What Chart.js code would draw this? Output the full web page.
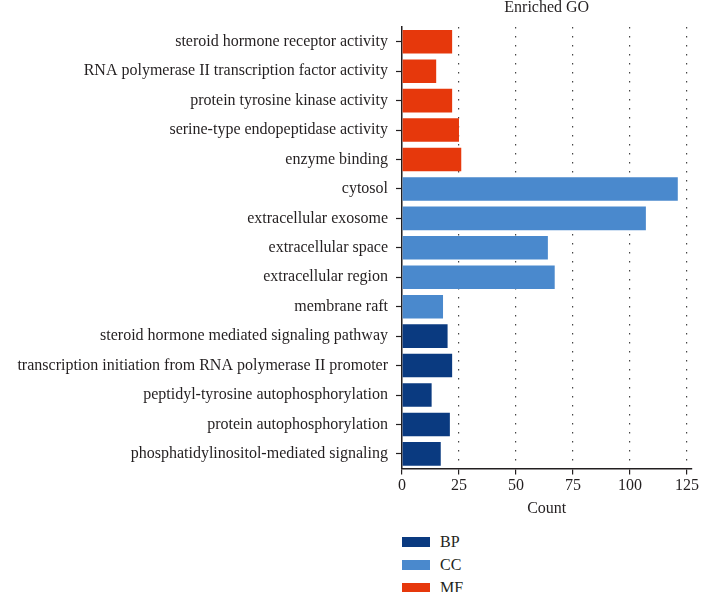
<!DOCTYPE html>
<html>
<head>
<meta charset="utf-8">
<script src="https://cdn.jsdelivr.net/npm/chart.js@4/dist/chart.umd.min.js"></script>
<style>
  body { margin: 0; background: #fff; }
  #wrap { position: relative; width: 701px; height: 592px; overflow: hidden; }
  #box { position: absolute; left: 0; top: 0; width: 701px; height: 518px; }
  #legend { position: absolute; left: 402px; top: 530px; font: 16px "Liberation Serif", serif; color: #231f20; }
  .item { display: flex; align-items: center; height: 23px; }
  .swatch { width: 28px; height: 10px; margin-right: 10px; }
</style>
</head>
<body>
<div id="wrap">
  <div id="box"><canvas id="chart"></canvas></div>
  <div id="legend"></div>
</div>
<script>
// GO terms, top to bottom
const terms = [
    'steroid hormone receptor activity',
    'RNA polymerase II transcription factor activity',
    'protein tyrosine kinase activity',
    'serine-type endopeptidase activity',
    'enzyme binding',
    'cytosol',
    'extracellular exosome',
    'extracellular space',
    'extracellular region',
    'membrane raft',
    'steroid hormone mediated signaling pathway',
    'transcription initiation from RNA polymerase II promoter',
    'peptidyl-tyrosine autophosphorylation',
    'protein autophosphorylation',
    'phosphatidylinositol-mediated signaling'
];
const mfCounts = [22, 15, 22, 25, 26, null, null, null, null, null, null, null, null, null, null];
const ccCounts = [null, null, null, null, null, 121, 107, 64, 67, 18, null, null, null, null, null];
const bpCounts = [null, null, null, null, null, null, null, null, null, null, 20, 22, 13, 21, 17];
const groups = ['BP', 'CC', 'MF'];
const groupColors = ['#0a3a80', '#4a89cd', '#e6380c'];
const xTicks = [0, 25, 50, 75, 100, 125];

const font = { family: '"Liberation Serif", serif', size: 16 };
const ink = '#231f20';

const titlePlugin = {
    id: 'topTitle',
    afterDraw(chart) {
        const { ctx, chartArea } = chart;
        ctx.save();
        ctx.font = '16px "Liberation Serif", serif';
        ctx.fillStyle = ink;
        ctx.textAlign = 'center';
        ctx.textBaseline = 'middle';
        ctx.fillText('Enriched GO', (chartArea.left + chartArea.right) / 2, 8);
        ctx.restore();
    }
};

const seriesData = { BP: bpCounts, CC: ccCounts, MF: mfCounts };

new Chart(document.getElementById('chart'), {
    type: 'bar',
    data: {
        labels: terms,
        datasets: groups.map((g, i) => ({
            label: g,
            data: seriesData[g],
            backgroundColor: groupColors[i],
            borderWidth: 0,
            barPercentage: 0.8,
            categoryPercentage: 1
        }))
    },
    options: {
        indexAxis: 'y',
        responsive: true,
        maintainAspectRatio: false,
        animation: false,
        layout: { padding: { top: 27, right: 6, left: 0, bottom: 0 } },
        plugins: { legend: { display: false }, tooltip: { enabled: false } },
        scales: {
            x: {
                stacked: true,
                min: 0,
                max: 127,
                afterBuildTicks: (scale) => { scale.ticks = xTicks.map(v => ({ value: v })); },
                ticks: { font, color: ink, padding: 2, maxRotation: 0 },
                grid: {
                    color: (c) => c.tick && c.tick.value === 0 ? 'rgba(0,0,0,0)' : '#444',
                    lineWidth: 1.2,
                    tickColor: ink,
                    tickLength: 6,
                    tickWidth: 1.2
                },
                border: { color: ink, width: 1.5, dash: [1.5, 7.5] },
                title: { display: true, text: 'Count', font, color: ink, padding: { top: 1, bottom: 0 } }
            },
            y: {
                stacked: true,
                afterFit: (scale) => { scale.width = 402; },
                ticks: { font, color: ink, padding: 8, autoSkip: false },
                grid: {
                    drawOnChartArea: false,
                    offset: false,
                    tickColor: ink,
                    tickLength: 6,
                    tickWidth: 1.2
                },
                border: { color: ink, width: 1.5 }
            }
        }
    },
    plugins: [titlePlugin]
});

// legend as plain html list under the chart
const legend = document.getElementById('legend');
groups.forEach((g, i) => {
    const row = document.createElement('div');
    row.className = 'item';
    row.innerHTML = `<span class="swatch" style="background:${groupColors[i]}"></span><span>${g}</span>`;
    legend.appendChild(row);
});
</script>
</body>
</html>
